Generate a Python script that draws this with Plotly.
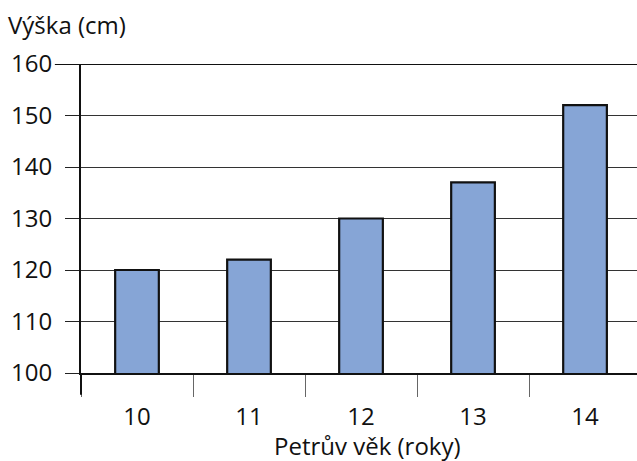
import plotly.graph_objects as go

# Petr's height by age
ages = ["10", "11", "12", "13", "14"]
heights_cm = [120, 122, 130, 137, 152]

y_ticks = [100, 110, 120, 130, 140, 150, 160]

FONT = "Open Sans"
FONT_SIZE = 24
BAR_FILL = "#86a5d6"

fig = go.Figure(
    go.Bar(
        x=ages,
        y=heights_cm,
        width=0.39,
        marker=dict(color=BAR_FILL, line=dict(color="#111111", width=2.2)),
        hoverinfo="x+y",
    )
)

fig.update_layout(
    width=637,
    height=461,
    margin=dict(l=81, r=0, t=63.5, b=87.5),
    paper_bgcolor="white",
    plot_bgcolor="white",
    showlegend=False,
    font=dict(family=FONT, size=FONT_SIZE, color="#111111"),
    xaxis=dict(
        type="category",
        range=[-0.5, 4.464],
        tickson="boundaries",
        ticks="outside",
        ticklen=22,
        tickwidth=1.2,
        tickcolor="#666666",
        showgrid=False,
        showline=True,
        linecolor="#111111",
        linewidth=2,
        ticklabelstandoff=21,
    ),
    yaxis=dict(
        range=[100, 160],
        tickvals=y_ticks,
        ticks="outside",
        ticklen=14,
        tickwidth=1.2,
        tickcolor="#222222",
        showgrid=True,
        gridcolor="#333333",
        gridwidth=1.2,
        showline=True,
        linecolor="#111111",
        linewidth=2,
        zeroline=False,
        ticklabelstandoff=8,
    ),
    annotations=[
        dict(
            text="Výška (cm)",
            xref="paper", yref="paper",
            x=0, xshift=-75, y=1, yshift=58,
            xanchor="left", yanchor="top",
            showarrow=False,
            font=dict(family=FONT, size=FONT_SIZE, color="#111111"),
        ),
        dict(
            text="Petrův věk (roky)",
            xref="paper", yref="paper",
            x=0.516, y=0, yshift=-54,
            xanchor="center", yanchor="top",
            showarrow=False,
            font=dict(family=FONT, size=FONT_SIZE, color="#111111"),
        ),
    ],
    shapes=[
        # heavier top rule at 160
        dict(type="line", xref="paper", yref="y", x0=-0.047, x1=1, y0=160, y1=160,
             line=dict(color="#111111", width=2)),
        # y axis line continues down alongside the x ticks
        dict(type="line", xref="paper", yref="paper", x0=0, x1=0, y0=0, y1=-0.07,
             line=dict(color="#111111", width=2)),
    ],
)

fig.write_html("out.html")
